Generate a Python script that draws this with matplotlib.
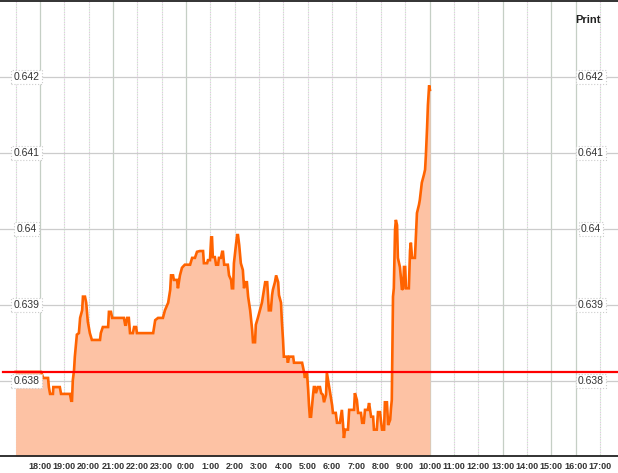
import numpy as np
import matplotlib
matplotlib.use("Agg")
import matplotlib.pyplot as plt
import matplotlib.transforms as mtransforms

# ---------------------------------------------------------
# DATA  (minutes after 17:00, price)
# ---------------------------------------------------------
minutes = [
    0, 63, 68, 80, 82, 85, 92, 93, 109, 112, 134, 137, 139, 141, 144, 146,
    151, 156, 159, 164, 166, 171, 174, 178, 183, 188, 208, 210, 215, 228,
    230, 235, 238, 267, 270, 272, 275, 279, 282, 289, 292, 297, 299, 339,
    344, 351, 363, 368, 376, 381, 383, 388, 390, 398, 400, 405, 410, 417,
    430, 435, 442, 447, 454, 462, 464, 472, 474, 479, 482, 484, 486, 491,
    494, 499, 501, 506, 509, 511, 514, 523, 526, 531, 533, 536, 538, 543,
    546, 548, 551, 555, 560, 563, 565, 570, 573, 578, 583, 585, 590, 592,
    597, 602, 607, 612, 615, 620, 622, 624, 629, 632, 634, 639, 642, 647,
    649, 654, 656, 659, 661, 669, 671, 674, 684, 686, 706, 711, 713, 716,
    718, 721, 723, 725, 728, 733, 735, 738, 740, 745, 750, 753, 757, 760,
    765, 767, 770, 775, 780, 782, 789, 792, 799, 804, 807, 809, 812, 819,
    822, 834, 836, 841, 844, 851, 854, 858, 861, 868, 871, 876, 881, 883,
    890, 893, 898, 900, 903, 908, 910, 915, 918, 923, 925, 927, 930, 932,
    935, 937, 940, 942, 947, 950, 952, 955, 957, 960, 962, 969, 972, 974,
    977, 984, 987, 989, 994, 996, 1001, 1006, 1009, 1011, 1014, 1016, 1019,
    1021,
]
prices = [
    0.63812, 0.63812, 0.63804, 0.63804, 0.63792, 0.63783, 0.63783, 0.63792,
    0.63792, 0.63783, 0.63783, 0.63774, 0.63774, 0.63801, 0.63814, 0.63832,
    0.63861, 0.63863, 0.63883, 0.63893, 0.63911, 0.63911, 0.63903, 0.63878,
    0.63863, 0.63854, 0.63854, 0.63863, 0.63871, 0.63871, 0.63891, 0.63891,
    0.63883, 0.63883, 0.63874, 0.63874, 0.63883, 0.63883, 0.63863, 0.63863,
    0.63871, 0.63871, 0.63863, 0.63863, 0.63880, 0.63883, 0.63883, 0.63893,
    0.63903, 0.63920, 0.63939, 0.63939, 0.63933, 0.63933, 0.63922, 0.63939,
    0.63949, 0.63953, 0.63953, 0.63962, 0.63962, 0.63970, 0.63971, 0.63971,
    0.63955, 0.63955, 0.63959, 0.63959, 0.63989, 0.63989, 0.63963, 0.63963,
    0.63953, 0.63953, 0.63962, 0.63962, 0.63970, 0.63970, 0.63953, 0.63953,
    0.63939, 0.63933, 0.63922, 0.63922, 0.63955, 0.63979, 0.63992, 0.63992,
    0.63979, 0.63955, 0.63946, 0.63922, 0.63930, 0.63930, 0.63911, 0.63893,
    0.63867, 0.63851, 0.63851, 0.63874, 0.63883, 0.63893, 0.63903, 0.63920,
    0.63930, 0.63930, 0.63913, 0.63893, 0.63893, 0.63913, 0.63920, 0.63930,
    0.63939, 0.63930, 0.63913, 0.63903, 0.63880, 0.63854, 0.63832, 0.63832,
    0.63824, 0.63832, 0.63832, 0.63824, 0.63824, 0.63811, 0.63804, 0.63811,
    0.63811, 0.63788, 0.63768, 0.63753, 0.63753, 0.63782, 0.63792, 0.63792,
    0.63784, 0.63792, 0.63792, 0.63784, 0.63782, 0.63772, 0.63782, 0.63811,
    0.63801, 0.63784, 0.63768, 0.63758, 0.63758, 0.63745, 0.63745, 0.63762,
    0.63742, 0.63725, 0.63736, 0.63736, 0.63762, 0.63762, 0.63784, 0.63775,
    0.63758, 0.63758, 0.63745, 0.63745, 0.63762, 0.63762, 0.63771, 0.63753,
    0.63753, 0.63736, 0.63736, 0.63759, 0.63759, 0.63749, 0.63736, 0.63736,
    0.63772, 0.63772, 0.63742, 0.63749, 0.63764, 0.63775, 0.63911, 0.63922,
    0.63999, 0.64012, 0.64005, 0.63962, 0.63950, 0.63933, 0.63920, 0.63922,
    0.63950, 0.63950, 0.63922, 0.63922, 0.63972, 0.63982, 0.63962, 0.63962,
    0.63999, 0.64021, 0.64032, 0.64038, 0.64061, 0.64071, 0.64078, 0.64097,
    0.64134, 0.64163, 0.64189, 0.64183,
]
ref_price = 0.63812

hour_labels = ["18:00", "19:00", "20:00", "21:00", "22:00", "23:00", "0:00",
               "1:00", "2:00", "3:00", "4:00", "5:00", "6:00", "7:00", "8:00",
               "9:00", "10:00", "11:00", "12:00", "13:00", "14:00", "15:00",
               "16:00", "17:00"]
price_levels = [0.638, 0.639, 0.640, 0.641, 0.642]
price_texts = ["0.638", "0.639", "0.64", "0.641", "0.642"]
solid_hours = [1, 4, 7, 17, 20, 22, 23]

# ---------------------------------------------------------
# PLOT
# ---------------------------------------------------------
fig = plt.figure(figsize=(6.18, 4.73), dpi=100)
ax = fig.add_axes([0, 17 / 473, 1, 455 / 473])
ax.set_xlim(-38.4, 1484.4)
ax.set_ylim(0.637013, 0.643)

# grid
for k in range(0, 25):
    if k in solid_hours:
        ax.axvline(60 * k, color="#c5cfc5", lw=0.9, zorder=0)
    else:
        ax.axvline(60 * k, color="#e2c4e2", lw=0.8, ls=(0, (1, 2)), zorder=0)
        ax.axvline(60 * k, color="#c4e2c4", lw=0.8, ls=(1.5, (1, 2)), zorder=0)
for p in price_levels:
    ax.axhline(p, color="#cccccc", lw=0.9, zorder=0.5)

ax.fill_between(minutes, prices, 0.637013, color="#fdc2a4", lw=0, zorder=1)
ax.plot(minutes, prices, color="#ff6300", lw=1.9, zorder=2,
        solid_joinstyle="miter")
ax.axhline(ref_price, xmin=3 / 618, color="#ff0000", lw=1.6, zorder=3)

# y labels in boxes
trans = mtransforms.blended_transform_factory(ax.transAxes, ax.transData)
for p, t in zip(price_levels, price_texts):
    for xf in (26.5 / 618, 591 / 618):
        ax.text(xf, p, t, transform=trans, ha="center", va="center",
                fontsize=7.5, family="Liberation Sans", color="#333333",
                zorder=5,
                bbox=dict(boxstyle="square,pad=0.22", fc="white",
                          ec="#cccccc", ls=":", lw=0.8))

ax.text(588.5 / 618, 1 - 19 / 455, "Print", transform=ax.transAxes,
        ha="center", va="center", fontsize=8, fontweight="bold",
        family="Liberation Sans", color="#222222")

ax.set_xticks([60 * (k + 1) for k in range(len(hour_labels))])
ax.set_xticklabels(hour_labels, fontsize=6.5, fontweight="bold",
                   family="Liberation Sans", color="#333333")
ax.tick_params(axis="x", length=0, pad=4)
ax.set_yticks([])

for s in ("left", "right"):
    ax.spines[s].set_visible(False)
for s in ("top", "bottom"):
    ax.spines[s].set_color("#222222")
    ax.spines[s].set_linewidth(1.3)

fig.savefig("out.png", dpi=100)
